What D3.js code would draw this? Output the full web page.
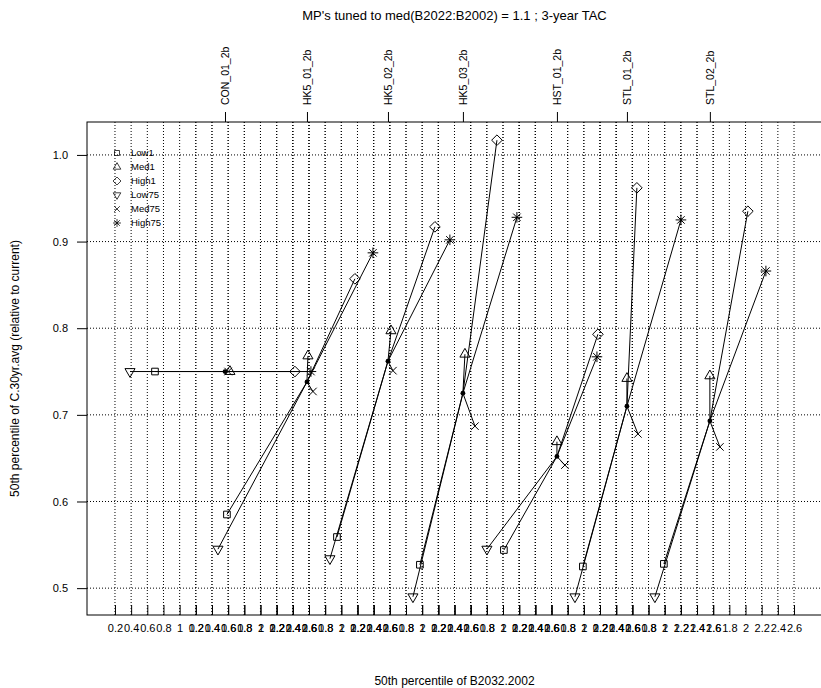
<!DOCTYPE html>
<html>
<head>
<meta charset="utf-8">
<script src="https://cdn.jsdelivr.net/npm/d3@7"></script>
<style>
  body { margin: 0; background: #fff; }
  svg { display: block; }
  text { font-family: "Liberation Sans", Arial, Helvetica, sans-serif; fill: #000; }
</style>
</head>
<body>
<svg id="chart" width="821" height="688"></svg>
<script>
// Management procedures, one x-axis block each (shifted one unit apart)
const mps = ["CON_01_2b", "HK5_01_2b", "HK5_02_2b", "HK5_03_2b", "HST_01_2b", "STL_01_2b", "STL_02_2b"];
const scenarios = ["Low1", "Med1", "High1", "Low75", "Med75", "High75"];

// Tuned (median) result per MP: B2032/B2002 and C.30yr.avg
const tunedB = [1.561, 1.575, 1.577, 1.504, 1.667, 1.533, 1.559];
const tunedC = [0.750, 0.738, 0.762, 0.725, 0.652, 0.710, 0.693];

// Robustness scenarios per MP
const low1B   = [0.695, 0.585, 0.946, 0.972, 1.011, 0.988, 0.990];
const low1C   = [0.750, 0.585, 0.559, 0.527, 0.544, 0.525, 0.528];
const med1B   = [1.622, 1.587, 1.614, 1.529, 1.667, 1.533, 1.559];
const med1C   = [0.750, 0.768, 0.797, 0.770, 0.669, 0.742, 0.745];
const high1B  = [2.426, 2.168, 2.158, 1.925, 2.174, 1.656, 2.029];
const high1C  = [0.750, 0.857, 0.917, 1.017, 0.793, 0.962, 0.935];
const low75B  = [0.386, 0.474, 0.859, 0.886, 0.801, 0.890, 0.879];
const low75C  = [0.750, 0.545, 0.534, 0.490, 0.545, 0.490, 0.490];
const med75B  = [1.600, 1.649, 1.638, 1.653, 1.766, 1.669, 1.683];
const med75C  = [0.750, 0.727, 0.751, 0.687, 0.642, 0.678, 0.663];
const high75B = [2.624, 2.391, 2.343, 2.172, 2.162, 2.201, 2.252];
const high75C = [0.750, 0.887, 0.902, 0.928, 0.767, 0.925, 0.866];

// Axis ticks
const xTicks = [0.2, 0.4, 0.6, 0.8, 1.0, 1.2, 1.4, 1.6, 1.8, 2.0, 2.2, 2.4, 2.6];
const yTicks = [0.5, 0.6, 0.7, 0.8, 0.9, 1.0];

const titleText = "MP's tuned to med(B2022:B2002) = 1.1 ; 3-year TAC";
const xTitle = "50th percentile of B2032.2002";
const yTitle = "50th percentile of C.30yr.avg (relative to current)";

// ---- layout ----
const box = { left: 87, right: 822, top: 122, bottom: 615 };
const panelShift = 1.0;
const FONT = "'Liberation Sans', Arial, sans-serif";

const svg = d3.select("#chart");
const x = d3.scaleLinear().domain([-0.146, 8.946]).range([box.left, box.right]);
const y = d3.scaleLinear().domain([0.469, 1.038]).range([box.bottom, box.top]);
const gx = (b, i) => x(b + i * panelShift);

const scenB = [low1B, med1B, high1B, low75B, med75B, high75B];
const scenC = [low1C, med1C, high1C, low75C, med75C, high75C];
const scenShape = ["square", "triUp", "diamond", "triDown", "times", "asterisk"];

// Plotting symbols, centred on the origin
const R = 3.75;
function symbolPath(kind) {
  const p = d3.path();
  if (kind === "square") {
    const s = R * 0.886;
    p.rect(-s, -s, 2 * s, 2 * s);
  } else if (kind === "triUp" || kind === "triDown") {
    const sg = kind === "triUp" ? 1 : -1;
    const r = 1.555 * R, hw = 1.347 * R, b = 0.778 * R;
    p.moveTo(0, -sg * r); p.lineTo(hw, sg * b); p.lineTo(-hw, sg * b); p.closePath();
  } else if (kind === "diamond") {
    const d = R * Math.SQRT2;
    p.moveTo(0, -d); p.lineTo(d, 0); p.lineTo(0, d); p.lineTo(-d, 0); p.closePath();
  } else if (kind === "times" || kind === "asterisk") {
    p.moveTo(-R, -R); p.lineTo(R, R); p.moveTo(-R, R); p.lineTo(R, -R);
    if (kind === "asterisk") {
      const d = R * Math.SQRT2;
      p.moveTo(-d, 0); p.lineTo(d, 0); p.moveTo(0, -d); p.lineTo(0, d);
    }
  }
  return p.toString();
}

// ---- grid ----
const grid = svg.append("g").attr("stroke", "#000").attr("stroke-width", 1)
  .attr("stroke-dasharray", "1,2").attr("fill", "none");
mps.forEach((mp, i) => {
  grid.selectAll(null).data(xTicks).join("line")
    .attr("x1", d => gx(d, i)).attr("x2", d => gx(d, i))
    .attr("y1", box.top).attr("y2", box.bottom);
});
grid.selectAll(null).data(yTicks).join("line")
  .attr("x1", box.left).attr("x2", box.right)
  .attr("y1", d => y(d)).attr("y2", d => y(d));

// ---- segments from tuned point to each scenario ----
const segs = svg.append("g").attr("stroke", "#000").attr("stroke-width", 1);
mps.forEach((mp, i) => {
  scenB.forEach((arr, s) => {
    segs.append("line")
      .attr("x1", gx(tunedB[i], i)).attr("y1", y(tunedC[i]))
      .attr("x2", gx(arr[i], i)).attr("y2", y(scenC[s][i]));
  });
});

// ---- scenario symbols ----
const sym = svg.append("g").attr("stroke", "#000").attr("stroke-width", 1).attr("fill", "none");
mps.forEach((mp, i) => {
  scenB.forEach((arr, s) => {
    sym.append("path")
      .attr("d", symbolPath(scenShape[s]))
      .attr("transform", `translate(${gx(arr[i], i)},${y(scenC[s][i])})`);
  });
});

// tuned points
svg.append("g").selectAll("circle").data(mps).join("circle")
  .attr("cx", (d, i) => gx(tunedB[i], i))
  .attr("cy", (d, i) => y(tunedC[i]))
  .attr("r", 2.4).attr("fill", "#000");

// ---- axes ----
const fmtX = v => String(Math.round(v * 10) / 10);
mps.forEach((mp, i) => {
  const ax = d3.axisBottom(x)
    .tickValues(xTicks.map(t => t + i * panelShift))
    .tickFormat((d, j) => fmtX(xTicks[j]))
    .tickSizeInner(-10).tickSizeOuter(0).tickPadding(9);
  const g = svg.append("g").attr("transform", `translate(0,${box.bottom})`).call(ax);
  g.select(".domain").remove();
  g.selectAll("text").attr("font-size", 11).style("font-family", FONT);
});

const yAxis = d3.axisLeft(y).tickValues(yTicks).tickFormat(d3.format(".1f"))
  .tickSizeInner(10).tickSizeOuter(0).tickPadding(9);
const gy = svg.append("g").attr("transform", `translate(${box.left},0)`).call(yAxis);
gy.select(".domain").remove();
gy.selectAll("text").attr("font-size", 11).style("font-family", FONT);

const topAxis = d3.axisTop(x)
  .tickValues(tunedB.map((b, i) => b + i * panelShift))
  .tickFormat((d, i) => mps[i])
  .tickSizeInner(10).tickSizeOuter(0);
const gt = svg.append("g").attr("transform", `translate(0,${box.top})`).call(topAxis);
gt.select(".domain").remove();
gt.selectAll("text")
  .attr("transform", "rotate(-90)")
  .attr("x", 17).attr("y", 0).attr("dy", "0.35em")
  .attr("text-anchor", "start")
  .attr("font-size", 10.5).style("font-family", FONT);

// plot frame
svg.append("rect")
  .attr("x", box.left).attr("y", box.top)
  .attr("width", box.right - box.left).attr("height", box.bottom - box.top)
  .attr("fill", "none").attr("stroke", "#000").attr("stroke-width", 1);

// ---- legend ----
const leg = svg.append("g").attr("transform", "translate(117,153)");
scenarios.forEach((name, s) => {
  const row = leg.append("g").attr("transform", `translate(0,${s * 14})`);
  row.append("path").attr("d", symbolPath(scenShape[s]))
    .attr("transform", "scale(0.75)")
    .attr("fill", "none").attr("stroke", "#000").attr("stroke-width", 1);
  row.append("text").attr("x", 14).attr("y", 0).attr("dy", "0.35em")
    .attr("font-size", 9.5).text(name);
});

// ---- titles ----
svg.append("text").attr("x", (box.left + box.right) / 2).attr("y", 20)
  .attr("text-anchor", "middle").attr("font-size", 13).text(titleText);
svg.append("text").attr("x", (box.left + box.right) / 2).attr("y", 685)
  .attr("text-anchor", "middle").attr("font-size", 12).text(xTitle);
svg.append("text")
  .attr("transform", `translate(19,${(box.top + box.bottom) / 2}) rotate(-90)`)
  .attr("text-anchor", "middle").attr("font-size", 12).text(yTitle);
</script>
</body>
</html>
